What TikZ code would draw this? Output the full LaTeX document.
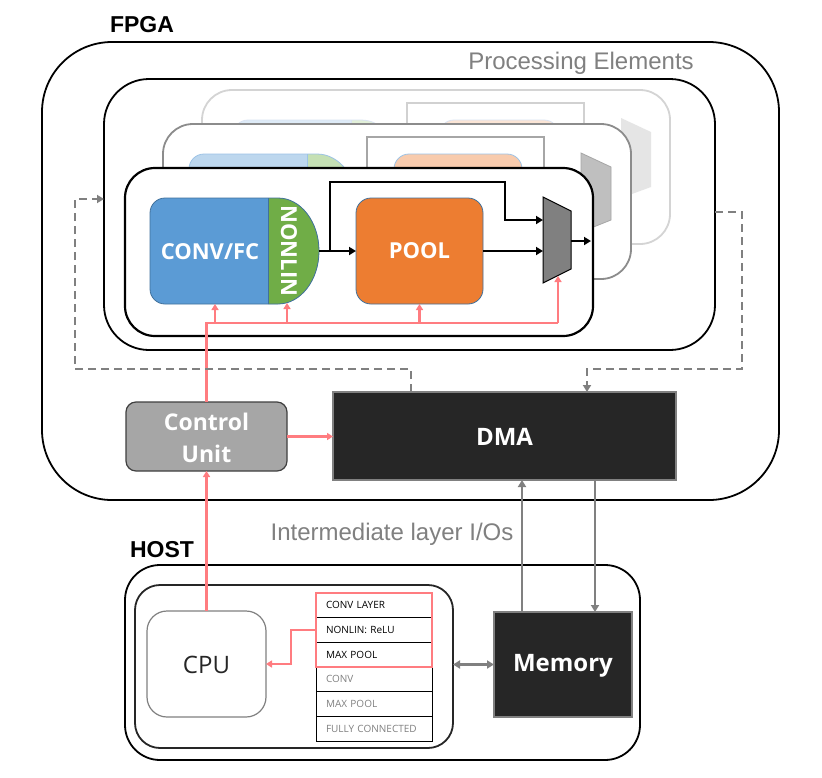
\documentclass[tikz,border=0pt]{standalone}
\usepackage{fontspec}
\setmainfont{Open Sans}
\newfontfamily\arialf{Liberation Sans}
\usetikzlibrary{arrows.meta}
\definecolor{cblue}{HTML}{5B9BD5}
\definecolor{cgreen}{HTML}{70AD47}
\definecolor{corange}{HTML}{ED7D31}
\definecolor{cborder}{HTML}{41719C}
\definecolor{blueB}{HTML}{BDD7EE}
\definecolor{greenB}{HTML}{C5E0B4}
\definecolor{orangeB}{HTML}{F8CBAD}
\definecolor{borderB}{HTML}{9DC3E6}
\definecolor{blueC}{HTML}{DEEBF7}
\definecolor{greenC}{HTML}{E2F0D9}
\definecolor{orangeC}{HTML}{FBE5D6}
\definecolor{borderC}{HTML}{DAE3F3}
\definecolor{myred}{HTML}{FF7C80}
\definecolor{mygray}{HTML}{808080}
\definecolor{dark}{HTML}{262626}
\newcommand\convshape[5]{%
\begin{scope}[shift={(#1,#2)}]
\fill[#3] (128,0) -- (15,0) arc[start angle=90,end angle=180,radius=15pt] -- (0,91) arc[start angle=180,end angle=270,radius=15pt] -- (128,106) arc[start angle=-90,end angle=90,x radius=41pt,y radius=53pt] -- cycle;
\fill[#4] (118,0) -- (128,0) arc[start angle=90,end angle=-90,x radius=41pt,y radius=53pt] -- (118,106) -- cycle;
\draw[#5,line width=0.8pt] (128,0) -- (15,0) arc[start angle=90,end angle=180,radius=15pt] -- (0,91) arc[start angle=180,end angle=270,radius=15pt] -- (128,106) arc[start angle=-90,end angle=90,x radius=41pt,y radius=53pt] -- cycle;
\draw[#5,line width=0.8pt] (118,0) -- (118,106);
\end{scope}}
\begin{document}
\begin{tikzpicture}[x=1pt,y=-1pt,
  bx/.style={rectangle,anchor=north west,inner sep=0pt,outer sep=0pt},
  rowbox/.style={bx,draw=black,line width=1pt,minimum width=116pt,minimum height=24.67pt,inner xsep=10pt,text width=96pt,align=left,font=\fontsize{10}{11}\selectfont},
  blk/.style={line width=2.6pt,-{Triangle[length=7pt,width=8pt]}},
  redl/.style={draw=myred,line width=2.5pt},
  redarr/.style={redl,-{Triangle[length=6pt,width=7pt]}},
  grayarr/.style={draw=mygray,line width=2.8pt,-{Triangle[length=7pt,width=8pt]}},
  dasharr/.style={draw=mygray,line width=2.8pt,dash pattern=on 8pt off 5pt,-{Triangle[length=7pt,width=8pt]}},
  wtext/.style={text=white,font=\bfseries\fontsize{22}{26}\selectfont}]
\useasboundingbox (0,0) rectangle (822,777);
\fill[white] (0,0) rectangle (822,777);

% FPGA
\node[bx,draw=black,line width=1.8pt,rounded corners=70pt,minimum width=737pt,minimum height=458pt] (fpga) at (42,42) {};
\node[font=\arialf\bfseries\fontsize{23}{26}\selectfont] (fpgalbl) at (142,25) {FPGA};
\node[text=mygray,font=\arialf\fontsize{24}{27}\selectfont] (pelbl) at (581,63) {Processing Elements};

% PE outer
\node[bx,draw=black,fill=white,line width=1.8pt,rounded corners=45pt,minimum width=611pt,minimum height=271pt] (pe) at (104,79) {};

% layer 3
\node[bx,draw=black!17,fill=white,line width=1.8pt,rounded corners=30pt,minimum width=468pt,minimum height=154pt] (pe3) at (202,90) {};
\draw[draw=black!18,line width=2.8pt] (407,140) -- (407,103) -- (584,103) -- (584,140);
\convshape{233}{120}{blueC}{greenC}{borderC}
\node[bx,fill=orangeC,draw=borderC,line width=0.8pt,rounded corners=15pt,minimum width=120pt,minimum height=106pt] (pool3) at (439,120) {};
\fill[black!10] (621,118) -- (651,132) -- (651,187) -- (621,198) -- cycle;

% layer 2
\node[bx,draw=black!45,fill=white,line width=1.8pt,rounded corners=30pt,minimum width=468pt,minimum height=155pt] (pe2) at (163,124) {};
\draw[draw=black!35,line width=2.8pt] (367,175) -- (367,137) -- (544,137) -- (544,175);
\convshape{189}{154}{blueB}{greenB}{borderB}
\node[bx,fill=orangeB,draw=borderB,line width=0.8pt,rounded corners=15pt,minimum width=128pt,minimum height=106pt] (pool2) at (394,154) {};
\filldraw[fill=black!25,draw=black!35,line width=0.8pt] (581,153) -- (611,167) -- (611,220) -- (581,232) -- cycle;

% layer 1
\node[bx,draw=black,fill=white,line width=2.2pt,rounded corners=30pt,minimum width=468pt,minimum height=168pt] (pe1) at (125,168) {};
\convshape{150}{198}{cblue}{cgreen}{cborder}
\node[bx,minimum width=169pt,minimum height=106pt] (conv) at (150,198) {};
\node[wtext] (convlbl) at (210,252) {CONV/FC};
\node[wtext,rotate=-90] (nonlin) at (289,251) {NONLIN};
\node[bx,fill=corange,draw=cborder,line width=0.8pt,rounded corners=15pt,minimum width=127pt,minimum height=106pt] (poolbox) at (356,198) {};
\node[wtext] (pool) at (419.5,251) {POOL};
\filldraw[fill=black!50,draw=black,line width=1pt] (543,197) -- (571,211) -- (571,269) -- (543,283) -- cycle;
\coordinate (m1a) at (543,220);
\coordinate (m1b) at (543,251);
\coordinate (m1o) at (571,241);
\coordinate (m1e) at (591,241);
\coordinate (m1s) at (558,276);
\coordinate (br) at (330,251);

\draw[blk] (conv.east) -- (poolbox.west);
\draw[line width=2.6pt] (br) -- (330,182) -- (505,182) -- (505,220) -- (520,220);
\draw[blk] (520,220) -- (m1a);
\draw[blk] (poolbox.east) -- (m1b);
\draw[blk] (m1o) -- (m1e);

% red control bus
\coordinate (rb1) at (215,323);
\coordinate (rb2) at (287,323);
\coordinate (rb3) at (419.5,323);
\coordinate (rb4) at (558,323);
\coordinate (nlb) at (287,303);

% Control unit, DMA
\node[bx,fill=black!35,draw=black!75,line width=1.2pt,rounded corners=10pt,minimum width=161pt,minimum height=69pt] (cubox) at (126,402) {};
\node[text=white,font=\bfseries\fontsize{23}{32}\selectfont,align=center] (cu) at (206.5,437.5) {Control\\Unit};
\node[bx,fill=dark,draw=mygray,line width=1.2pt,minimum width=343pt,minimum height=88pt] (dma) at (333,392) {};
\node[text=white,font=\bfseries\fontsize{24}{28}\selectfont] (dmalbl) at (504.5,437) {DMA};

\draw[redl] (cubox.north) |- (rb4);
\draw[redarr] (rb4) -- (m1s);
\draw[redarr] (rb1) -- (rb1 |- conv.south);
\draw[redarr] (rb2) -- (nlb);
\draw[redarr] (rb3) -- (rb3 |- poolbox.south);
\draw[redarr] (cubox.east) -- (cubox.east -| dma.west);

% dashed
\coordinate (dl) at (411,392);
\coordinate (pel) at (104,199);
\coordinate (per) at (715,212);
\coordinate (dr) at (587,392);
\draw[dasharr] (dl) |- (75,369) |- (pel);
\draw[dasharr] (per) -| (742,369) -| (dr);

% labels
\node[text=mygray,font=\arialf\fontsize{24}{27}\selectfont] (iol) at (392,534) {Intermediate layer I/Os};
\node[font=\arialf\bfseries\fontsize{23}{26}\selectfont] (hostlbl) at (162,550) {HOST};

% HOST
\node[bx,draw=black,line width=1.8pt,rounded corners=35pt,minimum width=515pt,minimum height=195pt] (host) at (125,565) {};
\node[bx,draw=black!85,line width=1.8pt,rounded corners=25pt,minimum width=318pt,minimum height=163pt] (sw) at (135,585) {};
\node[bx,draw=mygray,line width=1.2pt,rounded corners=20pt,minimum width=119pt,minimum height=106pt] (cpubox) at (147,611) {};
\node[font=\fontsize{24}{27}\selectfont,text=black!85] (cpu) at (206.5,665) {CPU};

\node[rowbox] (t1) at (316,593) {CONV LAYER};
\node[rowbox] (t2) at (t1.south west) {NONLIN: ReLU};
\node[rowbox] (t3) at (t2.south west) {MAX POOL};
\node[rowbox,text=mygray] (t4) at (t3.south west) {CONV};
\node[rowbox,text=mygray] (t5) at (t4.south west) {MAX POOL};
\node[rowbox,text=mygray] (t6) at (t5.south west) {FULLY CONNECTED};
\draw[redl,line width=2pt] (t1.north west) rectangle (t3.south east);

\node[bx,fill=dark,draw=mygray,line width=1.2pt,minimum width=138pt,minimum height=105pt] (membox) at (494,612) {};
\node[text=white,font=\bfseries\fontsize{24}{28}\selectfont] (mem) at (563,665.5) {Memory};

\coordinate (tk) at (291,664);
\draw[redarr] (t2.west) -| (tk) -- (cpubox.east |- tk);
\draw[redarr] (cpubox.north) -- (cubox.south);
\draw[grayarr,line width=2.4pt,{Triangle[length=7pt,width=8pt]}-{Triangle[length=7pt,width=8pt]}] (sw.east |- membox.west) -- (membox.west);
\coordinate (g1) at (522,612);
\coordinate (g2) at (595,480);
\draw[grayarr] (g1) -- (g1 |- dma.south);
\draw[grayarr] (g2) -- (g2 |- membox.north);
\end{tikzpicture}
\end{document}
